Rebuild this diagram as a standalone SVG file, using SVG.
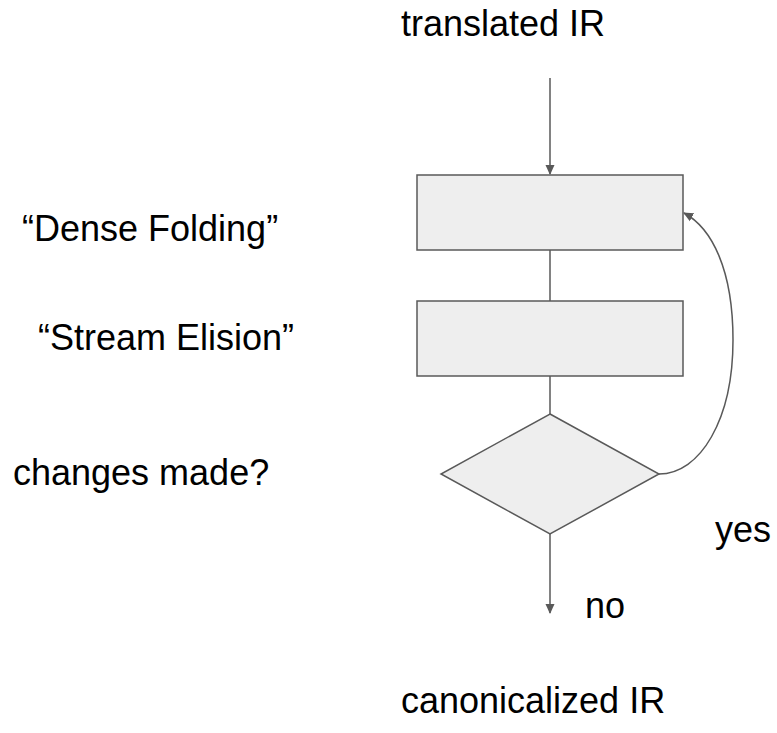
<svg xmlns="http://www.w3.org/2000/svg" width="777" height="733" viewBox="0 0 777 733">
  <style>
    .box { fill: #eeeeee; stroke: #595959; stroke-width: 1.5; }
    .edge { fill: none; stroke: #595959; stroke-width: 1.5; }
    .label { font-family: "Liberation Sans", Arial, sans-serif; font-size: 36px; fill: #000000; }
  </style>
  <defs>
    <marker id="arrow" markerWidth="10" markerHeight="10" refX="9" refY="5" orient="auto" markerUnits="userSpaceOnUse">
      <path d="M0,0.5 L10,5 L0,9.5 Z" fill="#595959"/>
    </marker>
  </defs>
  <rect width="777" height="733" fill="#ffffff"/>

  <g id="connectors">
    <line class="edge" x1="550" y1="78" x2="550" y2="174" marker-end="url(#arrow)"/>
    <line class="edge" x1="550" y1="250" x2="550" y2="301"/>
    <line class="edge" x1="550" y1="376" x2="550" y2="414"/>
    <line class="edge" x1="550" y1="534" x2="550" y2="613" marker-end="url(#arrow)"/>
    <path class="edge" d="M659,474 C700,474 733,420 733,340 C733,270 712,228 684,213" marker-end="url(#arrow)"/>
  </g>

  <g id="input">
    <text class="label" x="401" y="36">translated IR</text>
  </g>

  <g id="dense-folding">
    <rect class="box" x="417" y="175" width="266" height="75"/>
    <text class="label" x="22" y="241">“Dense Folding”</text>
  </g>

  <g id="stream-elision">
    <rect class="box" x="417" y="301" width="266" height="75"/>
    <text class="label" x="38" y="350">“Stream Elision”</text>
  </g>

  <g id="changes-made">
    <polygon class="box" points="550,414 659,474 550,534 441,474"/>
    <text class="label" x="13" y="485">changes made?</text>
  </g>

  <g id="branch-labels">
    <text class="label" x="715" y="542">yes</text>
    <text class="label" x="585" y="618">no</text>
  </g>

  <g id="output">
    <text class="label" x="401" y="713">canonicalized IR</text>
  </g>
</svg>
